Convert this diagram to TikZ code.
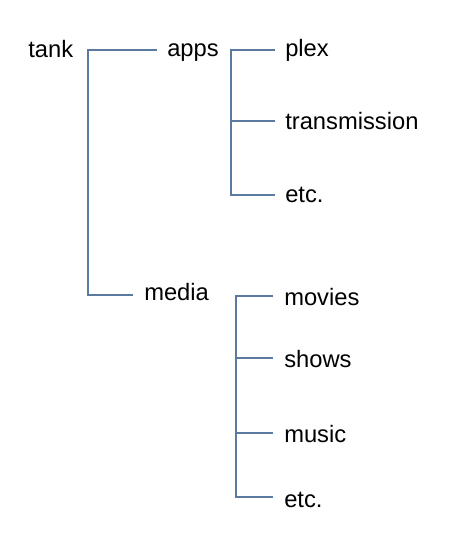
\documentclass[tikz,border=0pt]{standalone}
\usepackage{fontspec}
\setmainfont{Liberation Sans}
\definecolor{linec}{HTML}{5B7A9F}
\begin{document}
\begin{tikzpicture}[x=0.75pt,y=-0.75pt,
  lbl/.style={anchor=base west,inner sep=0pt,font=\fontsize{17.8}{20}\selectfont},
  conn/.style={draw=linec,line width=1.1pt}]
\useasboundingbox[fill=white] (0,0) rectangle (450,534);
% labels
\node[lbl] (tank)   at (28,58)  {tank};
\node[lbl] (apps)   at (167,57) {apps};
\node[lbl] (plex)   at (285,57) {plex};
\node[lbl] (trans)  at (285,130) {transmission};
\node[lbl] (etca)   at (285,203) {etc.};
\node[lbl] (media)  at (144,300) {media};
\node[lbl] (movies) at (284,305) {movies};
\node[lbl] (shows)  at (284,367) {shows};
\node[lbl] (music)  at (284,442) {music};
\node[lbl] (etcb)   at (284,507) {etc.};
% bracket points
\coordinate (tT) at (88,50);   \coordinate (tA) at (157,50);
\coordinate (tB) at (88,295);  \coordinate (tM) at (133,295);
\coordinate (aT) at (231,50);  \coordinate (aP) at (275,50);
\coordinate (aJ) at (231,121); \coordinate (aR) at (275,121);
\coordinate (aB) at (231,195); \coordinate (aE) at (275,195);
\coordinate (mT) at (236,296); \coordinate (mV) at (273,296);
\coordinate (mJ) at (236,358); \coordinate (mS) at (273,358);
\coordinate (mK) at (236,433); \coordinate (mU) at (273,433);
\coordinate (mB) at (236,497); \coordinate (mE) at (273,497);
% connectors
\draw[conn] (tA) -- (tT) -- (tB) -- (tM);
\draw[conn] (aP) -- (aT) -- (aB) -- (aE);
\draw[conn] (aJ) -- (aR);
\draw[conn] (mV) -- (mT) -- (mB) -- (mE);
\draw[conn] (mJ) -- (mS);
\draw[conn] (mK) -- (mU);
\end{tikzpicture}
\end{document}
